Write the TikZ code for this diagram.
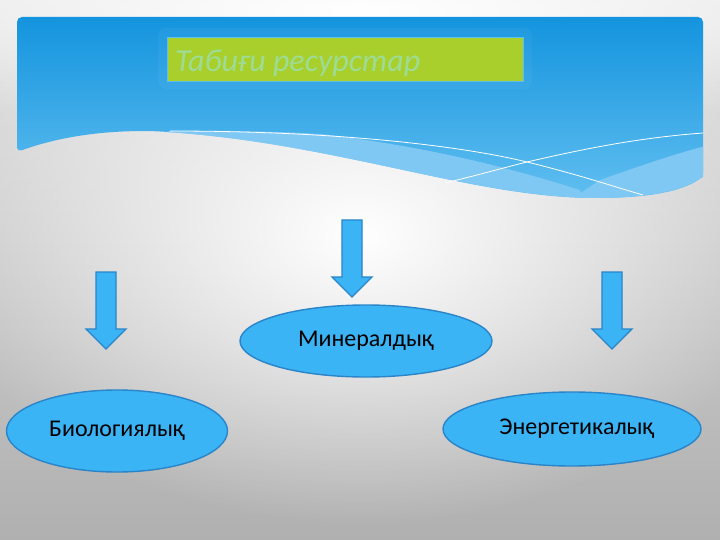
\documentclass[tikz,border=0pt]{standalone}
\usepackage{fontspec}
\setmainfont{Carlito}
\usetikzlibrary{shapes.geometric,fadings}
\definecolor{bgtop}{RGB}{226,226,226}
\definecolor{bgbot}{RGB}{176,176,176}
\definecolor{bannertop}{RGB}{20,148,222}
\definecolor{bannerbot}{RGB}{96,190,240}
\definecolor{lightband}{RGB}{128,200,244}
\definecolor{boxgreen}{RGB}{168,207,43}
\definecolor{boxedge}{RGB}{95,192,240}
\definecolor{titletext}{RGB}{158,220,150}
\definecolor{shapefill}{RGB}{59,180,246}
\definecolor{shapeedge}{RGB}{42,132,200}
\tikzfading[name=glowfade, inner color=transparent!0, outer color=transparent!100]
\tikzset{
  oval/.style={ellipse, draw=shapeedge, fill=shapefill, line width=1.4pt,
    font=\fontsize{24}{24}\selectfont, text=black, inner sep=0pt},
  arrowshape/.style={draw=shapeedge, fill=shapefill, line width=1.4pt, line join=miter},
  pics/downarrow/.style={code={
    \draw[arrowshape] (-10,0) -- (10,0) -- (10,57) -- (20,57) -- (0,77) -- (-20,57) -- (-10,57) -- cycle;}},
  wavefine/.style={draw=white, line width=0.8pt}
}
\begin{document}
\begin{tikzpicture}[x=1pt,y=-1pt]
\useasboundingbox (0,0) rectangle (720,540);
% background
\shade[top color=bgtop, bottom color=bgbot] (0,0) rectangle (720,540);
\begin{scope}
\clip (0,0) rectangle (720,540);
\fill[white, path fading=glowfade] (360,235) ellipse [x radius=430, y radius=290];
\fill[white, path fading=glowfade] (360,10) ellipse [x radius=700, y radius=120];
\end{scope}
% banner
\shade[top color=bannertop, bottom color=bannerbot, rounded corners=5]
  (17,152) -- (17,17) -- (703,17) -- (703,177)
  .. controls (690,185) and (670,197) .. (600,198)
  .. controls (470,198) and (330,140) .. (150,131)
  .. controls (90,131) and (50,140) .. (17,152) -- cycle;
\begin{scope}
\clip (17,152) -- (17,17) -- (703,17) -- (703,177)
  .. controls (690,185) and (670,197) .. (600,198)
  .. controls (470,198) and (330,140) .. (150,131)
  .. controls (90,131) and (50,140) .. (17,152) -- cycle;
\fill[lightband] (100,150) -- (170,131) .. controls (250,131) and (300,132) .. (330,135)
  .. controls (430,148) and (500,165) .. (580,190) -- (600,260) -- (100,260) -- cycle;
\fill[lightband] (540,220) -- (600,180) .. controls (640,166) and (680,152) .. (710,145)
  -- (710,220) -- cycle;
\fill[lightband!60!white, opacity=0.5] (150,131) .. controls (330,140) and (470,198) .. (600,198)
  -- (600,260) -- (100,260) -- cycle;
\end{scope}
\coordinate (l1a) at (170,131);
\coordinate (l1m) at (527,162);
\coordinate (l1b) at (643,195);
\coordinate (l2a) at (445,183);
\coordinate (l2b) at (703,133);
\draw[wavefine] (l1a) .. controls (350,131) and (470,148) .. (l1m)
  .. controls (580,175) and (615,187) .. (l1b);
\draw[wavefine] (l2a) .. controls (490,172) and (510,166) .. (l1m)
  .. controls (600,145) and (650,137) .. (l2b);
% title
\fill[white, opacity=0.04, rounded corners=8] (158,28) rectangle (532,89);
\node[draw=boxedge, line width=1.2pt, fill=boxgreen, minimum width=356pt,
  minimum height=44pt, inner sep=0pt, anchor=north west] (titlebox) at (167,37) {};
\node[anchor=base west, text=titletext, inner sep=0pt,
  font=\itshape\fontsize{32}{32}\selectfont] (titletext) at (175,72) {Табиғи ресурстар};
% arrows
\pic (arrL) at (106,272) {downarrow};
\pic (arrM) at (352,220) {downarrow};
\pic (arrR) at (612,272) {downarrow};
% ellipses
\node[oval, minimum width=221pt, minimum height=82pt] (bio) at (117,431) {Биологиялық};
\node[oval, minimum width=252pt, minimum height=72pt] (min) at (366,341) {Минералдық};
\node[oval, minimum width=258pt, minimum height=74pt] (en) at (572,429) {\hspace*{10pt}Энергетикалық};
\end{tikzpicture}
\end{document}
